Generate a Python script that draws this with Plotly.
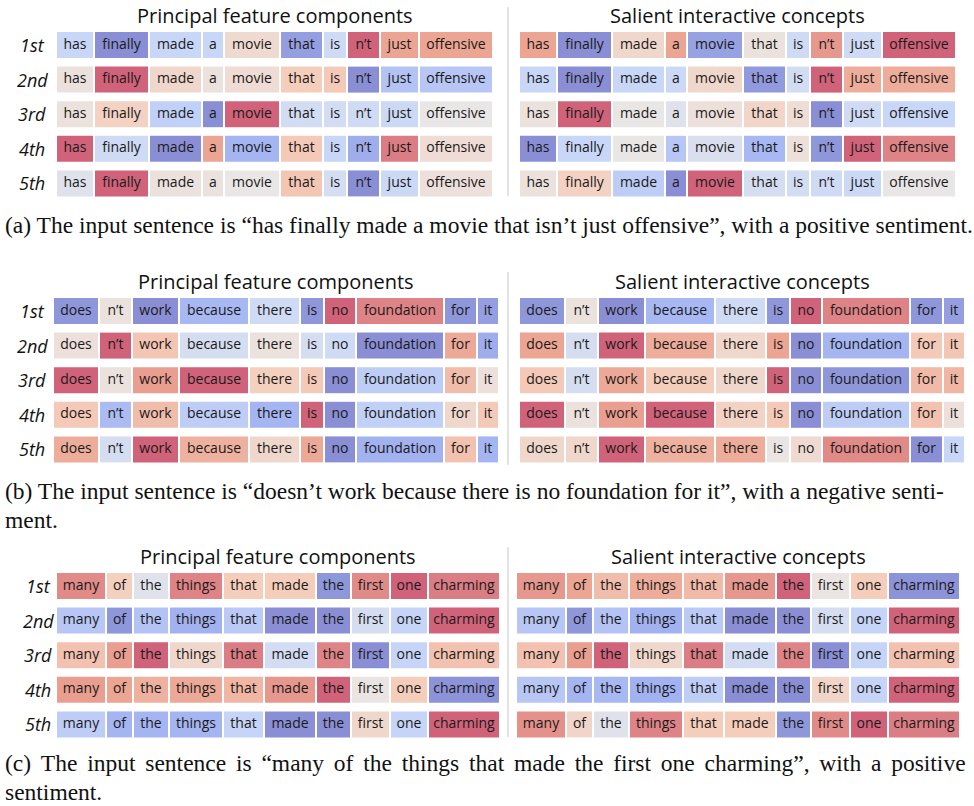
import plotly.graph_objects as go

# ---------------- data ----------------
rank_labels = ["1st", "2nd", "3rd", "4th", "5th"]
panel_titles = ["Principal feature components", "Salient interactive concepts"]

words_a = ["has", "finally", "made", "a", "movie", "that", "is", "n’t", "just", "offensive"]
words_b = ["does", "n’t", "work", "because", "there", "is", "no", "foundation", "for", "it"]
words_c = ["many", "of", "the", "things", "that", "made", "the", "first", "one", "charming"]

# signed attribution strength (blue < 0 < red)
a_principal = [
    [-1.0, -3.0, -1.0, -1.0, 0.5, -2.6, -0.8, 3.0, 2.0, 2.0],
    [0.2, 3.0, 0.6, 0.2, 0.4, 1.0, 1.1, -3.0, -1.6, -1.5],
    [0.2, 0.8, -1.2, -3.0, 3.0, -0.7, -0.7, -0.8, -0.9, 0.0],
    [3.0, -0.8, -3.0, 2.0, -2.0, 1.1, -1.0, -2.2, 2.6, 0.4],
    [-0.3, 3.0, 0.2, 0.2, 0.0, 1.2, -0.6, -3.0, -0.9, 0.3],
]
a_salient = [
    [2.0, -3.0, 0.6, 2.0, -2.5, 0.2, -0.8, 2.2, -0.8, 3.0],
    [-1.0, -3.0, -1.0, -0.9, 0.6, -2.7, -0.7, 3.0, 1.8, 1.8],
    [0.2, 3.0, 0.0, -0.3, 0.3, 0.7, 0.4, -3.0, -0.8, -1.0],
    [-3.0, -1.0, 0.0, -1.5, -0.5, -1.9, 0.3, -2.8, 3.0, 2.5],
    [0.2, 0.8, -1.3, -3.0, 3.0, -0.6, -0.7, -0.8, -0.9, 0.0],
]
b_principal = [
    [-2.8, 0.2, -3.0, -1.9, -0.8, -2.8, 3.0, 2.5, -2.8, -2.6],
    [0.3, 3.0, 1.2, -0.6, 0.2, -0.6, -0.8, -3.0, 1.9, -2.2],
    [3.0, 0.2, 2.1, 3.0, 0.9, 1.1, -3.0, -1.3, 1.4, 0.3],
    [1.1, -1.8, 1.4, -1.3, -2.0, 3.0, -3.0, -1.2, 0.6, 1.1],
    [1.8, -0.6, 3.0, 1.7, 0.6, 1.9, -3.0, -2.1, 1.3, -2.0],
]
b_salient = [
    [-2.8, 0.2, -3.0, -1.9, -0.8, -2.8, 3.0, 2.5, -2.8, -2.6],
    [2.0, -0.6, 3.0, 1.8, 0.6, 2.0, -3.0, -2.0, 1.1, 1.2],
    [1.1, -0.6, 1.9, 1.0, 0.6, 3.0, -3.0, -2.8, 1.5, 1.6],
    [3.0, 0.2, 2.1, 3.0, 0.8, 1.1, -3.0, -1.3, 1.3, 0.3],
    [0.6, 0.6, 3.0, 1.7, 1.8, 0.1, 0.5, 2.4, -3.0, -1.0],
]
c_principal = [
    [2.4, 0.9, -0.3, 2.5, 1.0, 1.0, -2.8, 2.4, 3.0, 2.6],
    [-1.5, -2.8, -1.6, -2.1, -1.4, -3.0, -3.0, -0.6, -1.1, 3.0],
    [1.3, 2.1, 3.0, 0.6, 2.6, -0.7, 2.5, -3.0, -1.1, 1.3],
    [2.1, 2.0, 1.7, 1.9, 1.6, 2.2, 3.0, 0.1, 1.0, -2.9],
    [-1.3, -2.0, -2.0, -2.0, -1.1, -3.0, -3.0, 0.6, -1.1, 3.0],
]
c_salient = [
    [2.2, 2.0, 1.4, 1.8, 1.5, 2.2, 3.0, 0.1, 1.0, -2.9],
    [-1.5, -2.8, -1.6, -2.1, -1.4, -3.0, -3.0, -0.6, -1.1, 3.0],
    [1.3, 2.1, 3.0, 0.6, 2.6, -0.7, 2.5, -3.0, -1.1, 1.3],
    [-1.5, -2.0, -1.9, -2.1, -1.3, -3.0, -3.0, 0.7, -1.1, 3.0],
    [2.3, 0.7, -0.3, 2.5, 1.0, 1.0, -2.8, 2.4, 3.0, 2.6],
]

captions = [
    ["(a) The input sentence is “has finally made a movie that isn’t just offensive”, with a positive sentiment."],
    ["(b) The input sentence is “doesn’t work because there is no foundation for it”, with a negative senti-",
     "ment."],
    ["(c) The input sentence is “many of the things that made the first one charming”, with a positive",
     "sentiment."],
]

# ---------------- layout (pixels) ----------------
FONT = "Open Sans"
CAP_FONT = "Liberation Serif"
colorscale = [
    [0.0, "#8a8fd5"], [0.1667, "#a5b5f2"], [0.3333, "#c8d7f7"], [0.5, "#e9e6e6"],
    [0.6667, "#f5cdbb"], [0.8333, "#eca593"], [1.0, "#d0637a"],
]
cell_h = 26
pitch = 34.6
gap = 2.0

panels = [
    dict(words=words_a, vals=(a_principal, a_salient), widths=[36, 53, 51, 20, 54, 41, 22, 31, 37, 72],
         row0=45, x0=(57, 520), label_x=32, title_y=15, sep=(7, 196), cap_y=[225], justify=[0]),
    dict(words=words_b, vals=(b_principal, b_salient), widths=[44, 31, 45, 68, 49, 22, 30, 86, 31, 20],
         row0=311, x0=(54, 520), label_x=32, title_y=281, sep=(272, 465), cap_y=[491, 520], justify=[0, 0]),
    dict(words=words_c, vals=(c_principal, c_salient), widths=[48, 25, 34, 52, 39, 50, 33, 37, 36, 70],
         row0=586, x0=(57, 517), label_x=38, title_y=556, sep=(547, 737), cap_y=[763, 792], justify=[1, 0]),
]


def justify_line(line):
    # widen inter-word spacing evenly (justified line in the original typesetting)
    return line.replace(" ", " \u2006")


fig = go.Figure()
annotations = []
shapes = []

for p_i, p in enumerate(panels):
    starts_rel = []
    acc = 0.0
    for w in p["widths"]:
        starts_rel.append(acc)
        acc += w + gap
    rows_y = [p["row0"] + r * pitch for r in range(len(rank_labels))]
    for side in range(2):
        vals = p["vals"][side]
        bx, bw, by, bc, tx, ty, tt = [], [], [], [], [], [], []
        for r, row in enumerate(vals):
            for k, v in enumerate(row):
                s = p["x0"][side] + starts_rel[k]
                bx.append(s)
                bw.append(p["widths"][k])
                by.append(rows_y[r])
                bc.append(v)
                tx.append(s + p["widths"][k] / 2)
                ty.append(rows_y[r])
                tt.append(p["words"][k])
        fig.add_trace(go.Bar(
            orientation="h", base=bx, x=bw, y=by, width=cell_h,
            marker=dict(color=bc, colorscale=colorscale, cmin=-3, cmax=3, line=dict(width=0)),
            hoverinfo="skip", showlegend=False,
        ))
        fig.add_trace(go.Scatter(
            x=tx, y=ty, text=tt, mode="text", textposition="middle center",
            textfont=dict(family=FONT, size=14, color="#1a1a1a"),
            hoverinfo="skip", showlegend=False,
        ))
        block_l = p["x0"][side]
        block_r = p["x0"][side] + acc - gap
        annotations.append(dict(
            x=(block_l + block_r) / 2, y=p["title_y"], xref="x", yref="y", text=panel_titles[side],
            showarrow=False, font=dict(family=FONT, size=20, color="#111111"),
            xanchor="center", yanchor="middle"))
    for r, lab in enumerate(rank_labels):
        annotations.append(dict(
            x=p["label_x"], y=rows_y[r], xref="x", yref="y", text=f"<i>{lab}</i>",
            showarrow=False, font=dict(family=FONT, size=18, color="#111111"),
            xanchor="center", yanchor="middle"))
    shapes.append(dict(type="line", xref="x", yref="y", x0=508, x1=508,
                       y0=p["sep"][0], y1=p["sep"][1], line=dict(color="#c8c8c8", width=1)))
    for line, cy, just in zip(captions[p_i], p["cap_y"], p["justify"]):
        txt = justify_line(line) if just else line
        annotations.append(dict(
            x=3, y=cy, xref="x", yref="y", text=txt, showarrow=False,
            font=dict(family=CAP_FONT, size=23.5, color="#111111"),
            xanchor="left", yanchor="middle"))

fig.update_layout(
    width=974, height=806, margin=dict(l=0, r=0, t=0, b=0),
    paper_bgcolor="white", plot_bgcolor="white", barmode="overlay",
    xaxis=dict(range=[0, 974], visible=False, fixedrange=True),
    yaxis=dict(range=[806, 0], visible=False, fixedrange=True),
    annotations=annotations, shapes=shapes, showlegend=False,
)
fig.write_html(
    "out.html",
    config={"displayModeBar": False},
    post_script="document.body.style.margin='0';document.body.style.overflow='hidden';",
)
